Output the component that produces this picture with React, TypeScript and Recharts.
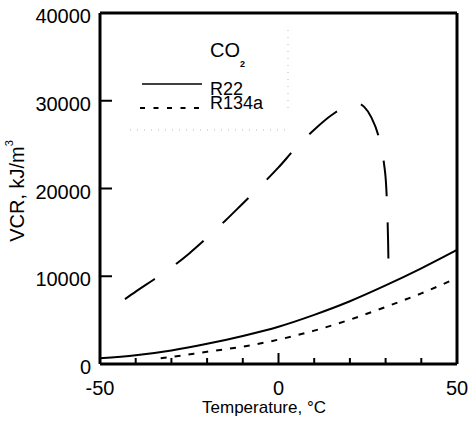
import { LineChart, Line, XAxis, YAxis, Legend, ReferenceLine } from 'recharts';

// values
const co2Temp = [-43, -40, -35, -30, -25, -20, -15, -10, -5, 0, 5, 10, 15, 20, 22, 24, 26, 28, 29.5, 30.2, 30.5, 30.7, 30.8];
const co2Vcr = [7400, 8250, 9600, 11000, 12600, 14400, 16300, 18300, 20300, 22400, 24700, 26700, 28400, 29550, 29700, 29300, 28100, 26000, 23000, 20000, 17000, 14000, 11600];

const r22Temp = [-50, -40, -30, -20, -10, 0, 10, 20, 30, 40, 50];
const r22Vcr = [650, 1000, 1550, 2300, 3200, 4250, 5600, 7150, 8950, 10900, 13000];

const r134aTemp = [-33, -30, -20, -10, 0, 10, 20, 30, 40, 50];
const r134aVcr = [650, 800, 1400, 1980, 2780, 3800, 5050, 6500, 8050, 9800];

const xTicks = [-50, -40, -30, -20, -10, 0, 10, 20, 30, 40, 50];
const xLabelled = [-50, 0, 50];
const yTicks = [0, 10000, 20000, 30000, 40000];

const FONT = '"Liberation Sans", Arial, sans-serif';

const rows = (ts: number[], vs: number[]) => ts.map((t, i) => ({ t, v: vs[i] }));
const co2Data = rows(co2Temp, co2Vcr);
const r22Data = rows(r22Temp, r22Vcr);
const r134aData = rows(r134aTemp, r134aVcr);

// ticks point inward, only some carry a label
const XTick = (props: any) => {
  const { x, y, payload } = props;
  const v = payload.value;
  const edge = v === -50 || v === 50;
  const len = v === 0 ? 11 : 6;
  return (
    <g>
      {!edge && <line x1={x} y1={y} x2={x} y2={y - len} stroke="#000" strokeWidth={2} />}
      {xLabelled.includes(v) && (
        <text x={x} y={y + 31} textAnchor="middle" fontSize={20} fontFamily={FONT} fill="#000">
          {v}
        </text>
      )}
    </g>
  );
};

const YTick = (props: any) => {
  const { x, y, payload } = props;
  const v = payload.value;
  const edge = v === 0 || v === 40000;
  return (
    <g>
      {!edge && <line x1={x} y1={y} x2={x + 12} y2={y} stroke="#000" strokeWidth={2} />}
      <text x={x - 9} y={y + 10} textAnchor="end" fontSize={20} fontFamily={FONT} fill="#000">
        {v}
      </text>
    </g>
  );
};

const LegendBox = () => (
  <svg width={180} height={115} style={{ display: 'block', overflow: 'visible' }}>
    <text x={90} y={32} fontSize={20} fontFamily={FONT} fill="#000">
      CO
      <tspan fontSize={9} fontWeight="bold" dx={0} dy={10}>2</tspan>
    </text>
    <line x1={22} y1={59} x2={82} y2={59} stroke="#000" strokeWidth={1.5} />
    <text x={90} y={69.5} fontSize={18} fontFamily={FONT} fill="#000">R22</text>
    <line x1={20} y1={83} x2={82} y2={83} stroke="#000" strokeWidth={1.8} strokeDasharray="5 8.5" />
    <text x={90} y={83.5} fontSize={18} fontFamily={FONT} fill="#000">R134a</text>
    {/* faint remains of the legend frame in the scan */}
    <line x1={168} y1={5} x2={168} y2={88} stroke="#b8b8b8" strokeWidth={1} strokeDasharray="1 6" />
    <line x1={10} y1={105} x2={165} y2={105} stroke="#b8b8b8" strokeWidth={1} strokeDasharray="1 6" />
  </svg>
);

// axis titles, laid over the chart
const Titles = () => (
  <svg width={469} height={430} style={{ position: 'absolute', left: 0, top: 0, pointerEvents: 'none' }}>
    <text x={264} y={413} textAnchor="middle" fontSize={17} fontFamily={FONT} fill="#000">
      Temperature, °C
    </text>
    <text transform="translate(24,191) rotate(-90)" textAnchor="middle" fontSize={20} fontFamily={FONT} fill="#000">
      VCR, kJ/m<tspan fontSize={11} dy={-11}>3</tspan>
    </text>
  </svg>
);

export default function App() {
  return (
    <div style={{ position: 'absolute', left: 0, top: 0, width: 469, height: 430, fontFamily: FONT, background: '#fff' }}>
      <LineChart width={469} height={430} margin={{ top: 13, right: 12, left: 0, bottom: 0 }}>
        <XAxis
          dataKey="t"
          type="number"
          domain={[-50, 50]}
          ticks={xTicks}
          interval={0}
          height={66}
          tickSize={0}
          tickMargin={0}
          tickLine={false}
          stroke="#000"
          strokeWidth={3}
          tick={<XTick />}
        />
        <YAxis
          type="number"
          domain={[0, 40000]}
          ticks={yTicks}
          interval={0}
          width={100}
          tickSize={0}
          tickMargin={0}
          tickLine={false}
          stroke="#000"
          strokeWidth={3}
          tick={<YTick />}
        />
        <Legend
          layout="vertical"
          align="center"
          verticalAlign="middle"
          wrapperStyle={{ left: 120, top: 25, width: 180, height: 115 }}
          content={() => <LegendBox />}
        />
        {/* top and right sides of the frame */}
        <ReferenceLine y={40000} stroke="#000" strokeWidth={3} />
        <ReferenceLine x={50} stroke="#000" strokeWidth={3} />
        <Line data={co2Data} dataKey="v" type="monotone" stroke="#000" strokeWidth={2} strokeDasharray="36 26" dot={false} isAnimationActive={false} />
        <Line data={r22Data} dataKey="v" type="monotone" stroke="#000" strokeWidth={2} dot={false} isAnimationActive={false} />
        <Line data={r134aData} dataKey="v" type="monotone" stroke="#000" strokeWidth={2} strokeDasharray="6 8" dot={false} isAnimationActive={false} />
      </LineChart>
      <Titles />
    </div>
  );
}
